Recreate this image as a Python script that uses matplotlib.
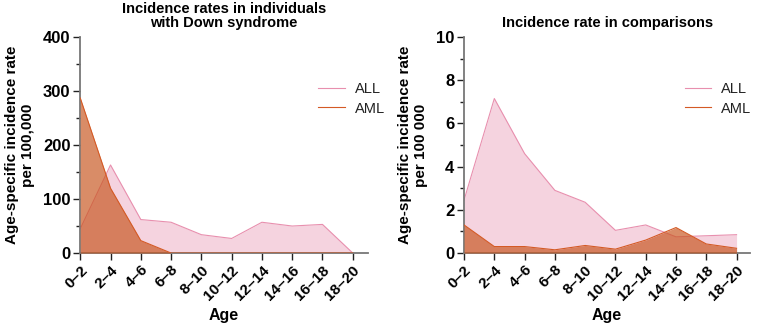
import matplotlib
matplotlib.use("Agg")
import matplotlib.pyplot as plt
import numpy as np

plt.rcParams['font.family'] = ['Liberation Sans', 'DejaVu Sans']

ages = ["0–2", "2–4", "4–6", "6–8", "8–10", "10–12", "12–14", "14–16", "16–18", "18–20"]
ds_all = [45, 163, 62, 57, 34, 27, 57, 50, 53, 0]
ds_aml = [287, 120, 23, 0, 0, 0, 0, 0, 0, 0]
cmp_all = [2.45, 7.15, 4.6, 2.9, 2.35, 1.05, 1.3, 0.75, 0.8, 0.85]
cmp_aml = [1.3, 0.3, 0.3, 0.15, 0.35, 0.18, 0.6, 1.18, 0.42, 0.22]

ALL_LINE = "#e88fae"
ALL_FILL = "#f5d3df"
AML_LINE = "#d45a25"
AML_FILL = "#c8561f"

fig = plt.figure(figsize=(7.57, 3.24), dpi=100)
ax1 = fig.add_axes([0.106, 0.219, 0.380, 0.667])
ax2 = fig.add_axes([0.613, 0.219, 0.378, 0.667])

def draw(ax, all_v, aml_v, ymax, ystep, title, ylabel, xmax, leg_x):
    x = np.arange(len(ages))
    ax.fill_between(x, 0, all_v, color=ALL_FILL, lw=0, zorder=1)
    ax.plot(x, all_v, color=ALL_LINE, lw=0.8, zorder=2, label="ALL")
    ax.fill_between(x, 0, aml_v, color=AML_FILL, alpha=0.68, lw=0, zorder=3)
    ax.plot(x, aml_v, color=AML_LINE, lw=0.8, zorder=4, label="AML")
    ax.set_xlim(0, xmax)
    ax.set_ylim(0, ymax)
    ax.set_xticks(x)
    ax.set_xticklabels(ages, rotation=45, ha="right", rotation_mode="anchor",
                       fontsize=11, fontweight="bold")
    yt = np.arange(0, ymax + ystep / 2, ystep)
    ax.set_yticks(yt)
    ax.set_yticks(np.arange(0, ymax + ystep / 4, ystep / 2), minor=True)
    labs = [f"{int(v)}" for v in yt]
    ax.set_yticklabels(labs, fontsize=12, fontweight="bold")
    ax.tick_params(axis="both", which="major", length=5, width=1, color="#222222", pad=2)
    ax.tick_params(axis="y", which="minor", length=3, width=1, color="#222222")
    for s in ["top", "right"]:
        ax.spines[s].set_visible(False)
    for s in ["left", "bottom"]:
        ax.spines[s].set_color("#777777")
        ax.spines[s].set_linewidth(1.3)
    ax.set_xlabel("Age", fontsize=11.5, fontweight="bold", labelpad=4)
    ax.set_ylabel(ylabel, fontsize=11, fontweight="bold", labelpad=6, linespacing=1.15)
    ax.set_title(title, fontsize=10.5, fontweight="bold", pad=7, linespacing=1.0)
    leg = ax.legend(loc="upper right", bbox_to_anchor=(leg_x, 0.83), frameon=False,
                    fontsize=10.5, handlelength=1.8, handletextpad=0.7, labelspacing=0.35,
                    borderaxespad=0.2)
    for t in leg.get_texts():
        t.set_color("#222222")

draw(ax1, ds_all, ds_aml, 400, 100, "Incidence rates in individuals\nwith Down syndrome",
     "Age-specific incidence rate\nper 100,000", 9.5, 1.09)
draw(ax2, cmp_all, cmp_aml, 10, 2, "Incidence rate in comparisons",
     "Age-specific incidence rate\nper 100 000", 9.45, 1.035)

fig.savefig("out.png", dpi=100)
